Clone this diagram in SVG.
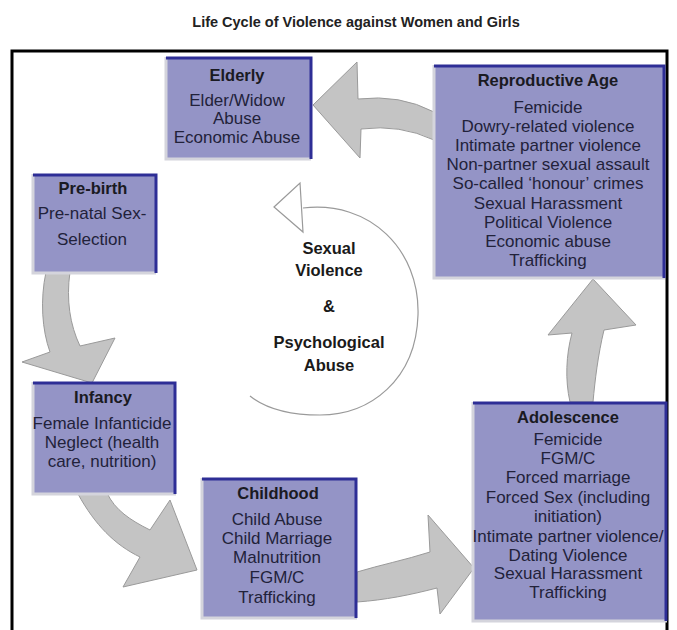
<svg xmlns="http://www.w3.org/2000/svg" width="677" height="630" viewBox="0 0 677 630">
  <style>
    .title { font-family: "Liberation Sans", Arial, sans-serif; font-weight: bold; font-size: 14.5px; fill: #222; }
    .box { fill: #9494c6; }
    .edge-dark { stroke: #2e2e96; stroke-width: 3; fill: none; }
    .edge-light { stroke: #d4d4dc; stroke-width: 3; fill: none; }
    .head { font-family: "Liberation Sans", Arial, sans-serif; font-weight: bold; font-size: 16.5px; fill: #1a1a22; text-anchor: middle; }
    .item { font-family: "Liberation Sans", Arial, sans-serif; font-size: 17px; fill: #22223a; text-anchor: middle; }
    .flow { fill: #c4c4c4; stroke: #9a9a9a; stroke-width: 1; }
    .ring { fill: none; stroke: #9a9a9a; stroke-width: 1.2; }
    .center { font-family: "Liberation Sans", Arial, sans-serif; font-weight: bold; font-size: 16.5px; fill: #1a1a1a; text-anchor: middle; }
  </style>

  <rect width="677" height="630" fill="#ffffff"/>
  <text class="title" x="356" y="27" text-anchor="middle">Life Cycle of Violence against Women and Girls</text>

  <!-- outer frame -->
  <rect x="12" y="51" width="655" height="600" fill="none" stroke="#000" stroke-width="3"/>

  <!-- block arrows between the stages -->
  <g id="connectors">
    <path class="flow" d="M 434,112 Q 400,94 358,99 L 357,62 L 313,105 L 360,158 L 361,129 Q 400,124 434,140 Z"/>
    <path class="flow" d="M 46,272 C 40,300 42,330 50,352 L 22,362 L 92,383 L 115,338 L 80,346 C 70,325 66,300 70,272 Z"/>
    <path class="flow" d="M 78,494 C 95,525 115,545 140,557 L 123,587 L 197,570 L 170,500 L 150,530 C 130,520 115,510 107,493 Z"/>
    <path class="flow" d="M 357,572 C 380,565 405,560 430,552 L 428,515 L 474,568 L 440,614 L 437,588 C 410,595 385,600 357,602 Z"/>
    <path class="flow" d="M 570,402 C 565,380 566,355 572,333 L 548,335 L 593,279 L 636,325 L 604,330 C 598,355 595,380 593,402 Z"/>
  </g>

  <!-- central cycle -->
  <g id="center">
    <path class="ring" d="M 303,208 C 370,200 420,250 418,315 C 416,380 370,415 320,415 C 290,415 265,408 250,396"/>
    <polygon points="274,207 300,183 303,232" fill="#ffffff" stroke="#9a9a9a" stroke-width="1.2"/>
    <text class="center" x="329" y="254">Sexual</text>
    <text class="center" x="329" y="276">Violence</text>
    <text class="center" x="329" y="312">&amp;</text>
    <text class="center" x="329" y="348">Psychological</text>
    <text class="center" x="329" y="371">Abuse</text>
  </g>

  <g id="elderly">
    <rect class="box" x="166" y="57" width="145" height="101"/>
    <path class="edge-light" d="M 166,57 V 159 H 311"/>
    <path class="edge-dark" d="M 166,58 H 311 V 159"/>
    <text class="head" x="237" y="81">Elderly</text>
    <text class="item" x="237" y="106">Elder/Widow</text>
    <text class="item" x="237" y="124">Abuse</text>
    <text class="item" x="237" y="143">Economic Abuse</text>
  </g>

  <g id="reproductive-age">
    <rect class="box" x="434" y="65" width="231" height="212"/>
    <path class="edge-light" d="M 434,65 V 278 H 665"/>
    <path class="edge-dark" d="M 434,66 H 664 V 278"/>
    <text class="head" x="548" y="86">Reproductive Age</text>
    <text class="item" x="548" y="113">Femicide</text>
    <text class="item" x="548" y="132">Dowry-related violence</text>
    <text class="item" x="548" y="151">Intimate partner violence</text>
    <text class="item" x="548" y="170">Non-partner sexual assault</text>
    <text class="item" x="548" y="189">So-called ‘honour’ crimes</text>
    <text class="item" x="548" y="209">Sexual Harassment</text>
    <text class="item" x="548" y="228">Political Violence</text>
    <text class="item" x="548" y="247">Economic abuse</text>
    <text class="item" x="548" y="266">Trafficking</text>
  </g>

  <g id="pre-birth">
    <rect class="box" x="33" y="174" width="123" height="98"/>
    <path class="edge-light" d="M 33,174 V 273 H 156"/>
    <path class="edge-dark" d="M 33,175 H 156 V 273"/>
    <text class="head" x="93" y="194">Pre-birth</text>
    <text class="item" x="92" y="219">Pre-natal Sex-</text>
    <text class="item" x="92" y="245">Selection</text>
  </g>

  <g id="infancy">
    <rect class="box" x="33" y="382" width="143" height="111"/>
    <path class="edge-light" d="M 33,382 V 494 H 176"/>
    <path class="edge-dark" d="M 33,383 H 175 V 494"/>
    <text class="head" x="103" y="403">Infancy</text>
    <text class="item" x="102" y="429">Female Infanticide</text>
    <text class="item" x="102" y="448">Neglect (health</text>
    <text class="item" x="102" y="467">care, nutrition)</text>
  </g>

  <g id="childhood">
    <rect class="box" x="202" y="478" width="155" height="139"/>
    <path class="edge-light" d="M 202,478 V 618 H 357"/>
    <path class="edge-dark" d="M 202,479 H 356 V 618"/>
    <text class="head" x="278" y="499">Childhood</text>
    <text class="item" x="277" y="525">Child Abuse</text>
    <text class="item" x="277" y="544">Child Marriage</text>
    <text class="item" x="277" y="563">Malnutrition</text>
    <text class="item" x="277" y="583">FGM/C</text>
    <text class="item" x="277" y="603">Trafficking</text>
  </g>

  <g id="adolescence">
    <rect class="box" x="473" y="402" width="194" height="218"/>
    <path class="edge-light" d="M 473,402 V 621 H 667"/>
    <path class="edge-dark" d="M 473,403 H 666 V 621"/>
    <text class="head" x="568" y="423">Adolescence</text>
    <text class="item" x="568" y="445">Femicide</text>
    <text class="item" x="568" y="464">FGM/C</text>
    <text class="item" x="568" y="483">Forced marriage</text>
    <text class="item" x="568" y="503">Forced Sex (including</text>
    <text class="item" x="568" y="522">initiation)</text>
    <text class="item" x="568" y="542">Intimate partner violence/</text>
    <text class="item" x="568" y="561">Dating Violence</text>
    <text class="item" x="568" y="579">Sexual Harassment</text>
    <text class="item" x="568" y="598">Trafficking</text>
  </g>
</svg>
